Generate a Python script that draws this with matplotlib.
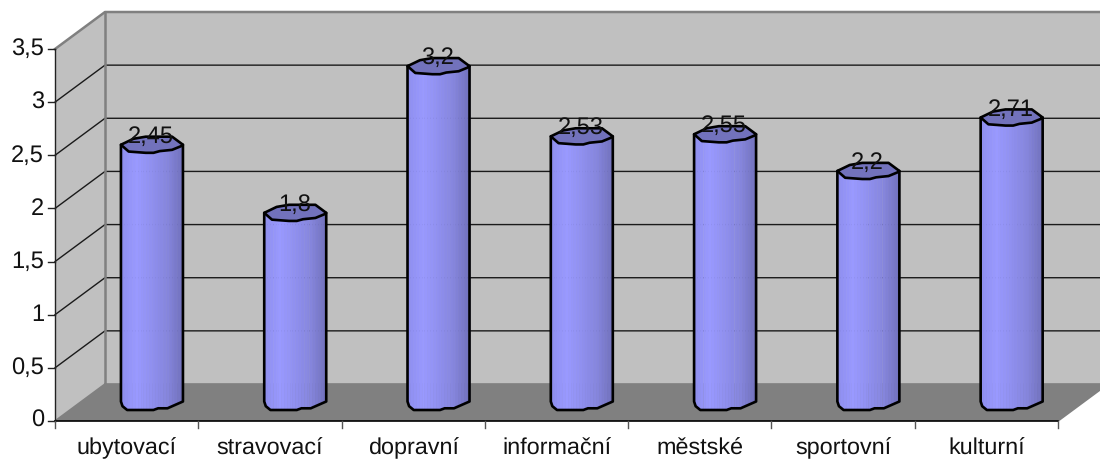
import matplotlib
matplotlib.use("Agg")
import matplotlib.pyplot as plt
import numpy as np
from matplotlib.colors import LinearSegmentedColormap
from matplotlib.patches import Polygon

categories = ["ubytovací", "stravovací", "dopravní", "informační", "městské", "sportovní", "kulturní"]
values = [2.45, 1.8, 3.2, 2.53, 2.55, 2.2, 2.71]
value_labels = ["2,45", "1,8", "3,2", "2,53", "2,55", "2,2", "2,71"]
y_ticks = [0, 0.5, 1, 1.5, 2, 2.5, 3, 3.5]
y_tick_labels = ["0", "0,5", "1", "1,5", "2", "2,5", "3", "3,5"]

plt.rcParams["font.family"] = ["Liberation Sans", "DejaVu Sans"]
plt.rcParams["text.hinting"] = "none"
W, H = 1100, 459
fig = plt.figure(figsize=(W / 100, H / 100), dpi=100, facecolor="white")
ax = fig.add_axes([55 / W, (H - 421) / H, 1003 / W, 372 / H])
ymax = y_ticks[-1]
n = len(categories)
ax.set_xlim(0, n)
ax.set_ylim(0, ymax)
ax.patch.set_visible(False)
for s in ax.spines.values():
    s.set_visible(False)
ax.set_xticks([])
ax.set_yticks([])

# scale conversions
px_x = n / 1003
px_y = ymax / 372
dx, dy = 50 * px_x, 37 * px_y
WALL, FLOOR, EDGE = "#C0C0C0", "#808080", "#808080"

# walls
ax.add_patch(Polygon([(dx, dy), (n + dx, dy), (n + dx, ymax + dy), (dx, ymax + dy)],
                     fc=WALL, ec="none", clip_on=False, zorder=1))
ax.add_patch(Polygon([(0, 0), (dx, dy), (dx, ymax + dy), (0, ymax)],
                     fc=WALL, ec="none", clip_on=False, zorder=1))
ax.add_patch(Polygon([(0, 0), (n, 0), (n + dx, dy), (dx, dy)],
                     fc=FLOOR, ec="none", clip_on=False, zorder=1))
# gridlines
for t in y_ticks[1:-1]:
    ax.plot([0, dx, n + dx], [t, t + dy, t + dy], color="#1a1a1a", lw=1.0, clip_on=False, zorder=2)
# wall edges
ax.plot([0, dx, n + dx], [ymax, ymax + dy, ymax + dy], color=EDGE, lw=1.8, clip_on=False, zorder=3)
ax.plot([dx, dx], [dy, ymax + dy], color=EDGE, lw=1.8, clip_on=False, zorder=3)
ax.plot([dx, n + dx], [dy, dy], color=EDGE, lw=1.2, clip_on=False, zorder=3)
ax.plot([0, dx], [0, dy], color=EDGE, lw=1.2, clip_on=False, zorder=3)
ax.plot([n, n + dx], [0, dy], color=EDGE, lw=1.2, clip_on=False, zorder=3)
# axes
ax.plot([0, 0], [0, ymax], color="#222222", lw=1.0, clip_on=False, zorder=4)
ax.plot([0, n], [0, 0], color="black", lw=1.2, clip_on=False, zorder=4)
for t, lab in zip(y_ticks, y_tick_labels):
    ax.plot([-7 * px_x, 0], [t, t], color="#222222", lw=1.0, clip_on=False, zorder=4)
    ax.text(-11 * px_x, t, lab, ha="right", va="center", fontsize=17, color="#111111", clip_on=False)
for i in range(n + 1):
    ax.plot([i, i], [0, -7 * px_y], color="#555555", lw=1.0, clip_on=False, zorder=4)
for i, lab in enumerate(categories):
    ax.text(i + 0.5, -33.5 * px_y, lab, ha="center", va="baseline", fontsize=16.8, color="#111111", clip_on=False)

# cylinders
half_w = 31 * px_x
ry = 8.5 * px_y
bar_scale = 0.986
bx = np.array([-1, -0.95, -0.8, 0.05, 0.2, 0.5, 0.95, 1.0])
by = np.array([0, -0.55, -1, -1, -0.8, -0.8, -0.08, 0])
tbx = np.array([-1, -0.75, -0.2, 0.05, 0.25, 0.65, 0.95, 1.0])
tby = np.array([0, -0.8, -0.95, -0.95, -0.75, -0.6, -0.15, 0])
ubx = np.array([-1, -0.6, -0.2, 0.65, 1.0])
uby = np.array([0, 0.7, 0.95, 0.95, 0])
cmap = LinearSegmentedColormap.from_list("cyl", ["#8E8EEE", "#9999FF", "#8F8FEF", "#8585DC", "#7070BB"])
base_y = 19.5 * px_y
N = 22
edges = np.linspace(-1, 1, N + 1)
for i, v in enumerate(values):
    c = i + 0.5 + dx * 0.5 + 0.3 * px_x
    top = base_y + v * bar_scale
    for j in range(N):
        t = np.linspace(edges[j], edges[j + 1], 5)
        low = base_y + ry * np.interp(t, bx, by)
        xs = c + half_w * t
        ax.fill_between(xs, low, top, color=cmap((j + 0.5) / N), lw=0.4, zorder=5, clip_on=False)
    outline = list(zip(c + half_w * bx, base_y + ry * by))
    outline += [(c + half_w, top), (c - half_w, top)]
    ax.add_patch(Polygon(outline, fc="none", ec="black", lw=1.9, zorder=6, clip_on=False, joinstyle="round"))
    cap = list(zip(c + half_w * tbx, top + ry * tby)) + list(zip(c + half_w * ubx[::-1], top + ry * uby[::-1]))
    ax.add_patch(Polygon(cap, fc="#7272BC", ec="black", lw=1.9, zorder=7, clip_on=False, joinstyle="round"))
    ax.text(c - 1 * px_x, top + 2 * px_y, value_labels[i], ha="center", va="baseline", fontsize=17,
            color="#111111", zorder=8, clip_on=False)

fig.savefig("out.png", dpi=100, facecolor="white")
